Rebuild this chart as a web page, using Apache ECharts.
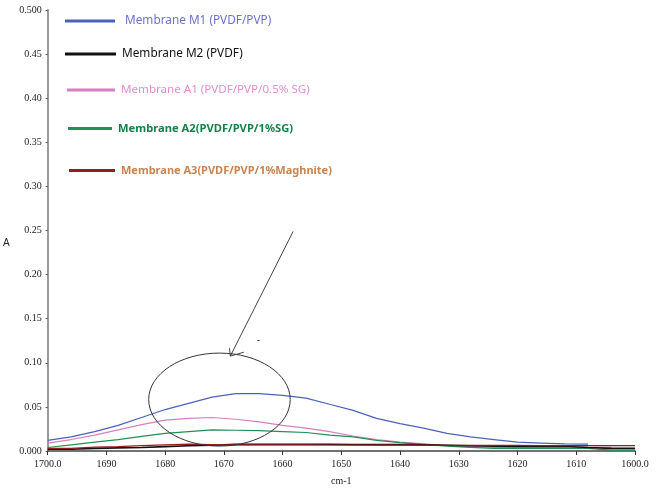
<!DOCTYPE html>
<html>
<head>
<meta charset="utf-8">
<script src="https://cdn.jsdelivr.net/npm/echarts@6/dist/echarts.min.js"></script>
<style>
html,body{margin:0;padding:0;background:#fff;}
#chart{width:656px;height:491px;}
</style>
</head>
<body>
<div id="chart"></div>
<script>
// Wavenumbers (cm-1)
var wavenumbers = [1700,1696,1692,1688,1684,1680,1676,1672,1668,1664,1660,1656,1652,1648,1644,1640,1636,1632,1628,1624,1620,1616,1612,1608,1604,1600];

var seriesNames = [
  'Membrane M1 (PVDF/PVP)',
  'Membrane M2 (PVDF)',
  'Membrane A1 (PVDF/PVP/0.5% SG)',
  'Membrane A2(PVDF/PVP/1%SG)',
  'Membrane A3(PVDF/PVP/1%Maghnite)'
];

var m1 = [0.012,0.016,0.022,0.029,0.038,0.047,0.054,0.061,0.065,0.065,0.063,0.060,0.053,0.046,0.037,0.031,0.026,0.020,0.016,0.013,0.010,0.009,0.008,0.0078,null,null];
var m2 = [0.002,0.002,0.003,0.0035,0.004,0.005,0.006,0.0065,0.0075,0.0075,0.0075,0.0075,0.0075,0.0073,0.0072,0.0072,0.007,0.0065,0.006,0.0055,0.0053,0.0053,0.0053,0.004,0.003,0.003];
var a1 = [0.009,0.013,0.018,0.024,0.030,0.035,0.037,0.038,0.036,0.033,0.029,0.026,0.022,0.017,0.013,0.010,0.008,0.006,0.005,0.004,0.004,0.004,0.004,0.004,0.004,null];
var a2 = [0.004,0.007,0.010,0.013,0.0165,0.020,0.022,0.024,0.0235,0.023,0.022,0.021,0.018,0.016,0.012,0.0095,0.0075,0.0055,0.004,0.003,0.003,0.003,0.003,0.003,0.001,0.001];
var a3 = [0.003,0.003,0.0045,0.005,0.006,0.007,0.0078,0.0072,0.007,0.007,0.007,0.007,0.0068,0.0067,0.0067,0.0066,0.0066,0.0065,0.0065,0.0064,0.0063,0.0062,0.0062,0.0062,0.0062,0.0062];

var lineColors = ['#4a62b8','#111111','#d77ec4','#1f9155','#981c1c'];
var legendTextColors = ['#6c72c6','#111111','#e08fcb','#17804a','#c9834e'];
var legendWeights = ['normal','normal','normal','bold','bold'];
var legendSizes = [11.8,11.8,11.6,11.2,11];
var legendTops = [23,56,92,131,173];
var legendLefts = [65,65,67,68,69];
var legendWidths = [50,51,48,44,46];
var legendPads = [5,1,1,1,1];

function pairs(vals){
  return wavenumbers.map(function(w,i){ return [w, vals[i]]; });
}

var dataSets = [m1,m2,a1,a2,a3];
var drawOrder = [0,2,3,1,4];

var series = drawOrder.map(function(k){
  return {
    name: seriesNames[k],
    type: 'line',
    data: pairs(dataSets[k]),
    showSymbol: false,
    symbol: 'none',
    connectNulls: false,
    lineStyle: {color: lineColors[k], width: k===1 ? 1.6 : 1.2},
    itemStyle: {color: lineColors[k]},
    z: 2
  };
});

// annotation arrow shaft as markLine on the first series
series[0].markLine = {
  silent: true,
  symbol: ['none','none'],
  label: {show: false},
  lineStyle: {color: '#444', width: 1, type: 'solid'},
  data: [[{coord:[1658.2,0.249]},{coord:[1668.9,0.1076]}]]
};

var legends = seriesNames.map(function(n,i){
  return {
    data: [{name: n, textStyle: {color: legendTextColors[i]}}],
    left: legendLefts[i],
    top: legendTops[i] - 8,
    padding: 0,
    itemWidth: legendWidths[i],
    itemHeight: 3,
    icon: 'rect',
    selectedMode: false,
    textStyle: {fontFamily: 'Noto Sans', fontSize: legendSizes[i], fontWeight: legendWeights[i], padding: [0,0,0,legendPads[i]]}
  };
});

var chart = echarts.init(document.getElementById('chart'));
chart.setOption({
  animation: false,
  backgroundColor: '#ffffff',
  grid: {left: 47, right: 21, top: 10, bottom: 34, containLabel: false},
  legend: legends,
  xAxis: {
    type: 'value',
    min: 1600, max: 1700, interval: 10,
    inverse: true,
    name: 'cm-1',
    nameLocation: 'middle',
    nameGap: 25,
    nameTextStyle: {fontFamily: 'Liberation Serif', fontSize: 10, color: '#222'},
    axisLine: {show: true, onZero: false, lineStyle: {color: '#444', width: 1.5}},
    axisTick: {show: true, length: 4, lineStyle: {color: '#333'}},
    axisLabel: {
      fontFamily: 'Liberation Serif', fontSize: 10, color: '#222', margin: 8,
      formatter: function(v){ return (v===1700||v===1600) ? v.toFixed(1) : String(v); }
    },
    splitLine: {show: false}
  },
  yAxis: {
    type: 'value',
    min: 0, max: 0.5, interval: 0.05,
    name: 'A',
    nameLocation: 'middle',
    nameRotate: 0,
    nameGap: 38,
    nameTextStyle: {fontFamily: 'Liberation Sans', fontSize: 10, color: '#222', verticalAlign: 'top', padding: [8,0,0,0]},
    axisLine: {show: true, lineStyle: {color: '#999', width: 2}},
    axisTick: {show: true, length: 2, lineStyle: {color: '#555'}},
    axisLabel: {
      fontFamily: 'Liberation Serif', fontSize: 10, color: '#222', margin: 6,
      formatter: function(v){
        var r = Math.round(v*100)/100;
        if (r===0) return '0.000';
        if (r===0.5) return '0.500';
        return r.toFixed(2);
      }
    },
    splitLine: {show: false}
  },
  series: series
});

function px(p){ return chart.convertToPixel({gridIndex:0}, p); }

function addAnnotations(){
  var c = px([1670.75, 0.0583]);
  var ex = px([1658.7, 0.0583]);
  var ey = px([1670.75, 0.111]);
  var d = px([1664.1, 0.1256]);
  var h1 = px([1669.05, 0.1166]);
  var tip = px([1668.9, 0.1076]);
  var h2 = px([1666.6, 0.112]);
  chart.setOption({
    graphic: [
      {
        type: 'ellipse',
        shape: {cx: c[0], cy: c[1], rx: Math.abs(ex[0]-c[0]), ry: Math.abs(c[1]-ey[1])},
        style: {fill: 'none', stroke: '#333', lineWidth: 1},
        silent: true,
        z: 10
      },
      {
        type: 'polyline',
        shape: {points: [h1, tip, h2]},
        style: {fill: 'none', stroke: '#444', lineWidth: 1},
        silent: true,
        z: 10
      },
      {
        type: 'text',
        x: d[0], y: d[1],
        style: {text: '-', fill: '#333', font: '10px Liberation Sans', align: 'center', verticalAlign: 'middle'},
        silent: true,
        z: 10
      }
    ]
  });
}
addAnnotations();
</script>
</body>
</html>
